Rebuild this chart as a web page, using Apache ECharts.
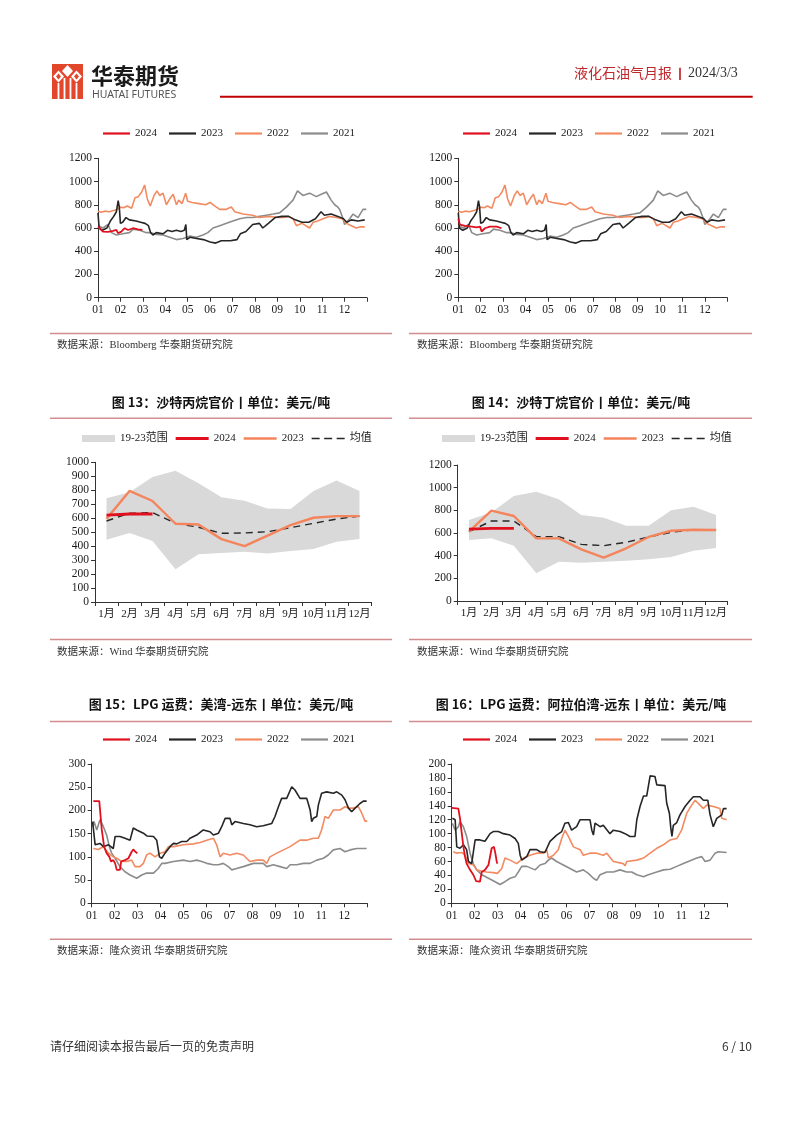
<!DOCTYPE html>
<html><head><meta charset="utf-8">
<script src="https://cdn.jsdelivr.net/npm/echarts@6/dist/echarts.min.js"></script>
<style>html,body{margin:0;padding:0;background:#fff;}#c{width:802px;height:1133px;}</style>
</head><body><div id="c"></div>
<script>
// ---------- tick labels / categories ----------
const monthTicks = ['01','02','03','04','05','06','07','08','09','10','11','12'];
const catMonths = ['1月','2月','3月','4月','5月','6月','7月','8月','9月','10月','11月','12月'];

// ---------- top charts (Bloomberg), [month offset, value] ----------
const fig1_2024 = [[0,612],[0.07,598],[0.22,569],[0.45,566],[0.67,575],[0.82,583],[0.89,555],[1.04,569],[1.19,598],[1.34,583],[1.56,598],[1.78,589],[1.98,583]];
const fig2_2024 = [[0,680],[0.07,630],[0.3,618],[0.6,612],[0.82,606],[0.97,612],[1.04,570],[1.19,598],[1.41,612],[1.71,612],[1.93,598]];
const bbg2023 = [[0,730],[0.05,600],[0.2,580],[0.4,600],[0.55,660],[0.7,700],[0.82,740],[0.9,835],[0.95,780],[1.0,640],[1.1,650],[1.25,690],[1.4,670],[1.7,660],[1.9,650],[2.1,640],[2.25,620],[2.35,560],[2.45,540],[2.6,560],[2.9,550],[3.1,580],[3.3,570],[3.5,580],[3.7,570],[3.85,580],[3.92,630],[3.96,500],[4.1,520],[4.4,510],[4.7,500],[5.0,480],[5.25,470],[5.5,490],[5.9,490],[6.2,500],[6.35,550],[6.6,570],[6.9,630],[7.2,640],[7.35,600],[7.6,640],[7.9,690],[8.2,700],[8.5,700],[8.8,670],[9.1,650],[9.4,650],[9.7,680],[9.95,740],[10.1,710],[10.4,720],[10.7,700],[10.95,680],[11.1,650],[11.3,670],[11.6,660],[11.9,670]];
const bbg2022 = [[0,745],[0.15,735],[0.3,745],[0.5,740],[0.7,750],[0.85,760],[1.0,780],[1.15,775],[1.3,790],[1.5,770],[1.65,860],[1.8,870],[1.95,910],[2.08,970],[2.2,850],[2.33,790],[2.5,880],[2.63,920],[2.75,880],[2.9,900],[3.05,800],[3.2,850],[3.35,890],[3.5,800],[3.6,840],[3.75,810],[3.91,900],[4.0,830],[4.2,820],[4.5,810],[4.8,800],[5.0,820],[5.2,790],[5.43,760],[5.7,760],[5.95,780],[6.1,740],[6.47,720],[6.9,710],[7.2,690],[7.66,700],[8.0,690],[8.25,690],[8.5,700],[8.7,680],[8.85,620],[9.1,640],[9.44,600],[9.6,650],[9.8,660],[10.04,680],[10.3,700],[10.63,690],[10.9,680],[11.08,640],[11.3,620],[11.52,600],[11.7,610],[11.9,610]];
const bbg2021 = [[0,620],[0.22,600],[0.45,630],[0.6,560],[0.82,540],[1.1,550],[1.4,560],[1.57,590],[1.86,580],[2.16,560],[2.3,560],[2.6,545],[2.9,540],[3.2,520],[3.5,500],[3.79,510],[4.09,530],[4.39,520],[4.68,540],[4.9,560],[5.13,600],[5.43,620],[5.73,640],[6.02,660],[6.32,680],[6.62,690],[6.91,690],[7.21,700],[7.51,710],[7.81,720],[8.1,730],[8.4,780],[8.7,840],[8.9,920],[9.14,880],[9.44,900],[9.74,870],[9.96,890],[10.19,910],[10.4,840],[10.56,800],[10.7,780],[10.78,760],[10.93,680],[11.0,630],[11.23,680],[11.38,720],[11.6,690],[11.82,760],[11.97,760]];

// ---------- fig 13 propane CP ----------
const propaneHigh = [742, 785, 895, 940, 850, 750, 725, 670, 665, 795, 870, 795];
const propaneLow  = [446, 494, 437, 234, 341, 351, 360, 348, 365, 380, 432, 451];
const propane2023 = [595, 795, 723, 560, 555, 450, 400, 475, 550, 603, 615, 615];
const propane2024 = [622, 630, 630];
const propaneMean = [580, 635, 640, 563, 535, 492, 494, 503, 532, 563, 594, 615];

// ---------- fig 14 butane CP ----------
const butaneHigh = [715, 780, 926, 965, 897, 759, 735, 665, 665, 800, 832, 759];
const butaneLow  = [538, 553, 488, 244, 347, 338, 347, 356, 368, 388, 444, 468];
const butane2023 = [612, 797, 750, 553, 553, 456, 382, 465, 565, 620, 629, 626];
const butane2024 = [635, 640, 640];
const butaneMean = [612, 706, 706, 568, 568, 500, 488, 518, 565, 606, 629, 626];

// ---------- fig 15 freight USG-FE ----------
const usg2024 = [[0.07,220],[0.33,220],[0.44,158],[0.54,122],[0.65,108],[0.77,100],[0.84,90],[0.94,93],[1.02,86],[1.09,72],[1.23,72],[1.28,90],[1.45,93],[1.6,97],[1.74,111],[1.81,116],[1.9,111],[1.99,108]];
const usg2023 = [[0.04,176],[0.15,126],[0.22,122],[0.36,129],[0.51,122],[0.73,126],[0.8,122],[0.94,118],[1.02,144],[1.23,144],[1.45,140],[1.67,136],[1.81,162],[1.96,158],[2.25,151],[2.4,145],[2.69,144],[2.83,136],[2.95,100],[3.05,97],[3.19,108],[3.41,122],[3.56,129],[3.7,128],[3.92,133],[4.14,133],[4.28,140],[4.57,147],[4.86,158],[5.15,154],[5.3,147],[5.52,151],[5.66,165],[5.81,183],[6.02,183],[6.1,169],[6.24,176],[6.6,172],[6.89,169],[7.18,165],[7.47,167],[7.84,172],[7.98,187],[8.13,208],[8.27,226],[8.49,226],[8.71,251],[8.85,244],[9.07,226],[9.36,226],[9.43,215],[9.51,201],[9.58,176],[9.65,183],[9.8,187],[9.87,212],[10.01,237],[10.23,240],[10.52,237],[10.67,240],[10.89,233],[11.03,223],[11.18,205],[11.32,197],[11.47,205],[11.68,215],[11.83,220],[11.97,220]];
const usg2022 = [[0.07,118],[0.29,116],[0.51,122],[0.73,108],[0.94,100],[1.09,97],[1.31,90],[1.52,90],[1.74,93],[1.89,79],[2.1,79],[2.25,86],[2.39,104],[2.54,108],[2.76,100],[2.98,108],[3.19,111],[3.34,122],[3.56,122],[3.99,126],[4.43,128],[4.72,131],[5.01,136],[5.3,140],[5.44,126],[5.59,100],[5.73,108],[6.02,104],[6.31,108],[6.6,104],[6.89,90],[7.18,93],[7.47,93],[7.62,86],[7.76,100],[8.06,108],[8.35,115],[8.64,122],[8.85,129],[9.07,136],[9.36,136],[9.65,140],[9.87,140],[10.01,158],[10.16,187],[10.3,183],[10.52,201],[10.81,201],[11.03,208],[11.18,205],[11.39,205],[11.61,208],[11.76,194],[11.9,177],[12.0,177]];
const usg2021 = [[0.04,165],[0.1,176],[0.22,158],[0.36,180],[0.44,183],[0.51,165],[0.65,147],[0.77,122],[0.87,108],[1.02,97],[1.23,79],[1.45,68],[1.67,61],[1.96,54],[2.18,61],[2.39,65],[2.69,65],[2.9,75],[3.05,86],[3.19,86],[3.56,90],[3.99,93],[4.28,90],[4.57,93],[4.79,90],[5.01,86],[5.3,83],[5.52,83],[5.73,86],[5.95,79],[6.1,72],[6.31,75],[6.6,79],[7.04,86],[7.47,86],[7.62,79],[7.91,83],[8.2,79],[8.49,75],[8.64,83],[8.93,83],[9.22,86],[9.51,86],[9.8,93],[10.09,97],[10.3,104],[10.52,115],[10.81,118],[11.03,111],[11.25,115],[11.54,118],[11.97,118]];

// ---------- fig 16 freight MEG-FE ----------
const meg2024 = [[0,137],[0.29,136],[0.36,122],[0.44,100],[0.51,81],[0.58,67],[0.65,57],[0.8,48],[0.94,41],[1.06,32],[1.23,31],[1.31,45],[1.45,48],[1.6,55],[1.67,57],[1.74,79],[1.84,81],[1.9,72],[1.96,60],[1.99,57]];
const meg2023 = [[0.03,122],[0.15,120],[0.22,81],[0.36,79],[0.51,84],[0.65,77],[0.73,60],[0.87,57],[0.94,57],[1.02,91],[1.23,91],[1.45,89],[1.67,100],[1.81,103],[2.03,103],[2.25,100],[2.54,98],[2.76,93],[2.9,86],[2.98,69],[3.05,62],[3.27,67],[3.41,77],[3.7,77],[3.85,74],[4.06,73],[4.28,89],[4.57,98],[4.79,103],[4.93,115],[5.08,116],[5.22,105],[5.44,110],[5.59,120],[6.02,120],[6.1,105],[6.17,98],[6.24,115],[6.46,110],[6.6,112],[6.89,100],[7.04,105],[7.33,103],[7.55,100],[7.76,96],[7.98,96],[8.06,120],[8.2,139],[8.35,154],[8.49,154],[8.64,183],[8.85,182],[8.93,170],[9.29,169],[9.36,144],[9.48,129],[9.54,108],[9.59,96],[9.65,112],[9.8,116],[9.94,127],[10.16,139],[10.38,148],[10.52,153],[10.81,153],[10.96,148],[11.15,148],[11.25,127],[11.39,110],[11.54,122],[11.76,127],[11.83,136],[11.97,136]];
const meg2022 = [[0.07,74],[0.22,72],[0.44,73],[0.58,69],[0.73,57],[0.94,55],[1.09,48],[1.31,46],[1.52,45],[1.81,44],[1.99,43],[2.18,50],[2.32,65],[2.54,62],[2.83,57],[3.12,65],[3.41,69],[3.7,72],[3.99,72],[4.14,77],[4.21,65],[4.43,69],[4.64,77],[4.79,93],[4.93,105],[5.08,96],[5.3,81],[5.59,77],[5.73,69],[6.02,72],[6.31,72],[6.6,69],[6.75,72],[7.04,60],[7.47,57],[7.55,54],[7.62,60],[8.06,62],[8.35,65],[8.64,72],[8.93,79],[9.22,84],[9.51,91],[9.8,93],[10.01,105],[10.23,129],[10.45,141],[10.6,148],[10.81,141],[10.96,136],[11.1,141],[11.39,139],[11.68,136],[11.76,122],[11.97,120]];
const meg2021 = [[0.03,115],[0.15,105],[0.29,110],[0.36,117],[0.51,110],[0.65,96],[0.8,72],[0.94,57],[1.09,48],[1.31,41],[1.6,36],[1.89,31],[2.1,27],[2.32,31],[2.54,36],[2.76,38],[2.9,45],[3.05,53],[3.27,53],[3.63,48],[3.85,55],[4.06,57],[4.21,62],[4.35,65],[4.57,60],[4.86,55],[5.15,50],[5.44,45],[5.73,48],[5.95,43],[6.17,36],[6.31,33],[6.46,41],[6.75,45],[7.04,45],[7.33,48],[7.62,45],[7.84,45],[8.06,41],[8.35,38],[8.56,41],[8.93,45],[9.22,48],[9.51,49],[9.8,53],[10.09,57],[10.38,61],[10.67,65],[10.89,67],[11.03,60],[11.25,62],[11.47,72],[11.61,74],[11.97,73]];

// ---------- styling ----------
const SERIF = "'Liberation Serif','Times New Roman','Noto Sans CJK SC',serif";
const SANS = "'Noto Sans CJK SC','Noto Sans',sans-serif";
const C24 = '#e0101e', C23 = '#262626', C22 = '#f38b62', C21 = '#8c8c8c';
const C23o = '#f4845c', BAND = '#d9d9d9', SEP = '#d38d8f';
const AX = '#333';

const grids = [
  {left: 98,    top: 158.3, width: 269,   height: 139.4},
  {left: 458.3, top: 158.3, width: 269,   height: 139.4},
  {left: 95,    top: 462.3, width: 276,   height: 139.7},
  {left: 457.7, top: 465,   width: 269.6, height: 136},
  {left: 91.7,  top: 764,   width: 275.6, height: 139.3},
  {left: 451.7, top: 764,   width: 275.6, height: 139.3}
];

const axLine = {show: true, lineStyle: {color: AX, width: 1}};
const axTick = {show: true, length: 4, inside: false, lineStyle: {color: AX}};
const lbl = {fontFamily: SERIF, fontSize: 11.5, color: '#1a1a1a'};

function tsX(gi) {
  return {gridIndex: gi, type: 'value', min: 0, max: 12, interval: 1,
    axisLine: axLine, axisTick: axTick, splitLine: {show: false},
    axisLabel: Object.assign({margin: 7, formatter: v => (v < 12 ? monthTicks[v] : '')}, lbl)};
}
function catX(gi) {
  return {gridIndex: gi, type: 'category', data: catMonths, boundaryGap: true,
    axisLine: axLine, axisTick: Object.assign({alignWithLabel: false}, axTick), splitLine: {show: false},
    axisLabel: Object.assign({margin: 7, interval: 0, hideOverlap: false}, lbl, {fontSize: 11})};
}
function valY(gi, max, interval) {
  return {gridIndex: gi, type: 'value', min: 0, max: max, interval: interval,
    axisLine: axLine, axisTick: axTick, splitLine: {show: false},
    axisLabel: Object.assign({margin: 6, formatter: v => String(v)}, lbl)};
}

function ln(name, gi, data, color, width, extra) {
  return Object.assign({type: 'line', name: name, xAxisIndex: gi, yAxisIndex: gi, data: data,
    symbol: 'none', showSymbol: false, smooth: false, animation: false,
    lineStyle: {color: color, width: width}, itemStyle: {color: color}}, extra || {});
}
function bandSeries(prefix, gi, low, high) {
  const diff = high.map((v, i) => v - low[i]);
  return [
    {type: 'line', name: prefix + '|low', xAxisIndex: gi, yAxisIndex: gi, data: low, stack: prefix + 'band',
      symbol: 'none', lineStyle: {opacity: 0}, areaStyle: {opacity: 0}, animation: false, silent: true},
    {type: 'line', name: prefix + '|19-23范围', xAxisIndex: gi, yAxisIndex: gi, data: diff, stack: prefix + 'band',
      symbol: 'none', lineStyle: {opacity: 0, color: BAND}, itemStyle: {color: BAND},
      areaStyle: {color: BAND, opacity: 1}, animation: false, silent: true}
  ];
}
function tsSeries(prefix, gi, d24, d23, d22, d21) {
  return [
    ln(prefix + '|2021', gi, d21, C21, 1.6),
    ln(prefix + '|2022', gi, d22, C22, 1.6),
    ln(prefix + '|2023', gi, d23, C23, 1.6),
    ln(prefix + '|2024', gi, d24, C24, 1.8)
  ];
}
function cpSeries(prefix, gi, low, high, d23, d24, mean) {
  return bandSeries(prefix, gi, low, high).concat([
    ln(prefix + '|均值', gi, mean, C23, 1.4, {lineStyle: {color: C23, width: 1.4, type: [7, 5]}}),
    ln(prefix + '|2023', gi, d23, C23o, 2.4),
    ln(prefix + '|2024', gi, d24, C24, 2.8)
  ]);
}

const ICON_TS = 'path://M0,0H27V2.2H0Z';
const legBase = {orient: 'horizontal', padding: 0, itemWidth: 27, itemHeight: 10, itemGap: 12,
  selectedMode: false, formatter: n => n.split('|')[1],
  textStyle: {fontFamily: SERIF, fontSize: 11, color: '#1a1a1a', padding: [0, 0, 0, 0]}};
function tsLegend(prefix, left, top) {
  const cols = {'2024': C24, '2023': C23, '2022': C22, '2021': C21};
  return Object.assign({}, legBase, {left: left, top: top,
    data: ['2024', '2023', '2022', '2021'].map(y => ({name: prefix + '|' + y, icon: ICON_TS, itemStyle: {color: cols[y], borderWidth: 0}}))});
}
function cpLegend(prefix, left, top) {
  return Object.assign({}, legBase, {left: left, top: top, itemWidth: 33, itemGap: 8,
    data: [
      {name: prefix + '|19-23范围', icon: 'path://M0,0H32V7H0Z', itemStyle: {color: BAND, borderWidth: 0}},
      {name: prefix + '|2024', icon: 'path://M0,0H33V3H0Z', itemStyle: {color: C24, borderWidth: 0}},
      {name: prefix + '|2023', icon: 'path://M0,0H33V2.5H0Z', itemStyle: {color: C23o, borderWidth: 0}},
      {name: prefix + '|均值', icon: 'path://M0,0H8V1.5H0Z M12.5,0H20.5V1.5H12.5Z M25,0H33V1.5H25Z', itemStyle: {color: C23, borderWidth: 0}}
    ]});
}

// ---------- graphic helpers ----------
function txt(text, x, y, font, fill, align) {
  return {type: 'text', silent: true, style: {text: text, x: x, y: y, font: font, fill: fill || '#222',
    align: align || 'left', textAlign: align || 'left', verticalAlign: 'middle', textVerticalAlign: 'middle'}};
}
function hline(x1, x2, y, color, w) {
  return {type: 'line', silent: true, shape: {x1: x1, y1: y, x2: x2, y2: y}, style: {stroke: color, lineWidth: w}};
}
const TITLE_FONT = 'bold 13px ' + SANS;
const SRC_FONT = '10.5px ' + SERIF;

const graphics = [
  // logo
  {type: 'rect', silent: true, shape: {x: 52, y: 64, width: 31, height: 35}, style: {fill: '#e2472b'}},
  {type: 'polygon', silent: true, shape: {points: [[58.5, 70.5], [64, 76.5], [58.5, 82.5], [53, 76.5]]}, style: {fill: '#fff'}},
  {type: 'polygon', silent: true, shape: {points: [[67.5, 65], [73, 71], [67.5, 77], [62, 71]]}, style: {fill: '#fff'}},
  {type: 'polygon', silent: true, shape: {points: [[76.5, 70.5], [82, 76.5], [76.5, 82.5], [71, 76.5]]}, style: {fill: '#fff'}},
  {type: 'polygon', silent: true, shape: {points: [[58.5, 73.5], [61, 76.5], [58.5, 79.5], [56, 76.5]]}, style: {fill: '#e2472b'}},
  {type: 'polygon', silent: true, shape: {points: [[76.5, 73.5], [79, 76.5], [76.5, 79.5], [74, 76.5]]}, style: {fill: '#e2472b'}},
  {type: 'rect', silent: true, shape: {x: 57.6, y: 83, width: 1.8, height: 16}, style: {fill: '#fff'}},
  {type: 'rect', silent: true, shape: {x: 63.6, y: 78, width: 1.8, height: 21}, style: {fill: '#fff'}},
  {type: 'rect', silent: true, shape: {x: 69.6, y: 78, width: 1.8, height: 21}, style: {fill: '#fff'}},
  {type: 'rect', silent: true, shape: {x: 75.6, y: 83, width: 1.8, height: 16}, style: {fill: '#fff'}},
  txt('华泰期货', 91, 76, 'bold 22px ' + SANS, '#1a1a1a'),
  txt('HUATAI FUTURES', 92, 95.5, '10.5px "Noto Sans","Liberation Sans",sans-serif', '#555'),
  txt('液化石油气月报', 672, 73, '14px ' + SANS, '#c0282d', 'right'),
  txt('丨', 680, 73, 'bold 13px ' + SANS, '#c0282d', 'center'),
  txt('2024/3/3', 688, 73, '14px ' + SERIF, '#333'),
  hline(220, 752.7, 96.7, '#c00000', 2),
  // separators
  hline(50, 392, 333.5, SEP, 1.5), hline(409, 752, 333.5, SEP, 1.5),
  hline(50, 392, 418.3, SEP, 1.5), hline(409, 752, 418.3, SEP, 1.5),
  hline(50, 392, 639.5, SEP, 1.5), hline(409, 752, 639.5, SEP, 1.5),
  hline(50, 392, 721.5, SEP, 1.5), hline(409, 752, 721.5, SEP, 1.5),
  hline(50, 392, 939.3, SEP, 1.5), hline(409, 752, 939.3, SEP, 1.5),
  // sources
  txt('数据来源：Bloomberg 华泰期货研究院', 57, 345, SRC_FONT, '#333'),
  txt('数据来源：Bloomberg 华泰期货研究院', 417, 345, SRC_FONT, '#333'),
  txt('数据来源：Wind 华泰期货研究院', 57, 652, SRC_FONT, '#333'),
  txt('数据来源：Wind 华泰期货研究院', 417, 652, SRC_FONT, '#333'),
  txt('数据来源：隆众资讯 华泰期货研究院', 57, 951.7, SRC_FONT, '#333'),
  txt('数据来源：隆众资讯 华泰期货研究院', 417, 951.7, SRC_FONT, '#333'),
  // titles
  txt('图 13：沙特丙烷官价丨单位：美元/吨', 221, 401.7, TITLE_FONT, '#111', 'center'),
  txt('图 14：沙特丁烷官价丨单位：美元/吨', 581, 401.7, TITLE_FONT, '#111', 'center'),
  txt('图 15：LPG 运费：美湾-远东丨单位：美元/吨', 221, 704, TITLE_FONT, '#111', 'center'),
  txt('图 16：LPG 运费：阿拉伯湾-远东丨单位：美元/吨', 581, 704, TITLE_FONT, '#111', 'center'),
  // footer
  txt('请仔细阅读本报告最后一页的免责声明', 50, 1046, '12px ' + SANS, '#333'),
  txt('6 / 10', 752, 1046, '12px ' + SANS, '#333', 'right')
];

const option = {
  animation: false,
  backgroundColor: '#fff',
  grid: grids,
  xAxis: [tsX(0), tsX(1), catX(2), catX(3), tsX(4), tsX(5)],
  yAxis: [valY(0, 1200, 200), valY(1, 1200, 200), valY(2, 1000, 100), valY(3, 1200, 200), valY(4, 300, 50), valY(5, 200, 20)],
  legend: [
    tsLegend('a', 103, 128),
    tsLegend('b', 463, 128),
    cpLegend('c', 82, 433),
    cpLegend('d', 442, 433),
    tsLegend('e', 103, 734),
    tsLegend('f', 463, 734)
  ],
  series: [].concat(
    tsSeries('a', 0, fig1_2024, bbg2023, bbg2022, bbg2021),
    tsSeries('b', 1, fig2_2024, bbg2023, bbg2022, bbg2021),
    cpSeries('c', 2, propaneLow, propaneHigh, propane2023, propane2024, propaneMean),
    cpSeries('d', 3, butaneLow, butaneHigh, butane2023, butane2024, butaneMean),
    tsSeries('e', 4, usg2024, usg2023, usg2022, usg2021),
    tsSeries('f', 5, meg2024, meg2023, meg2022, meg2021)
  ),
  graphic: graphics
};

const chart = echarts.init(document.getElementById('c'), null, {renderer: 'canvas'});
chart.setOption(option);
</script>
</body></html>
